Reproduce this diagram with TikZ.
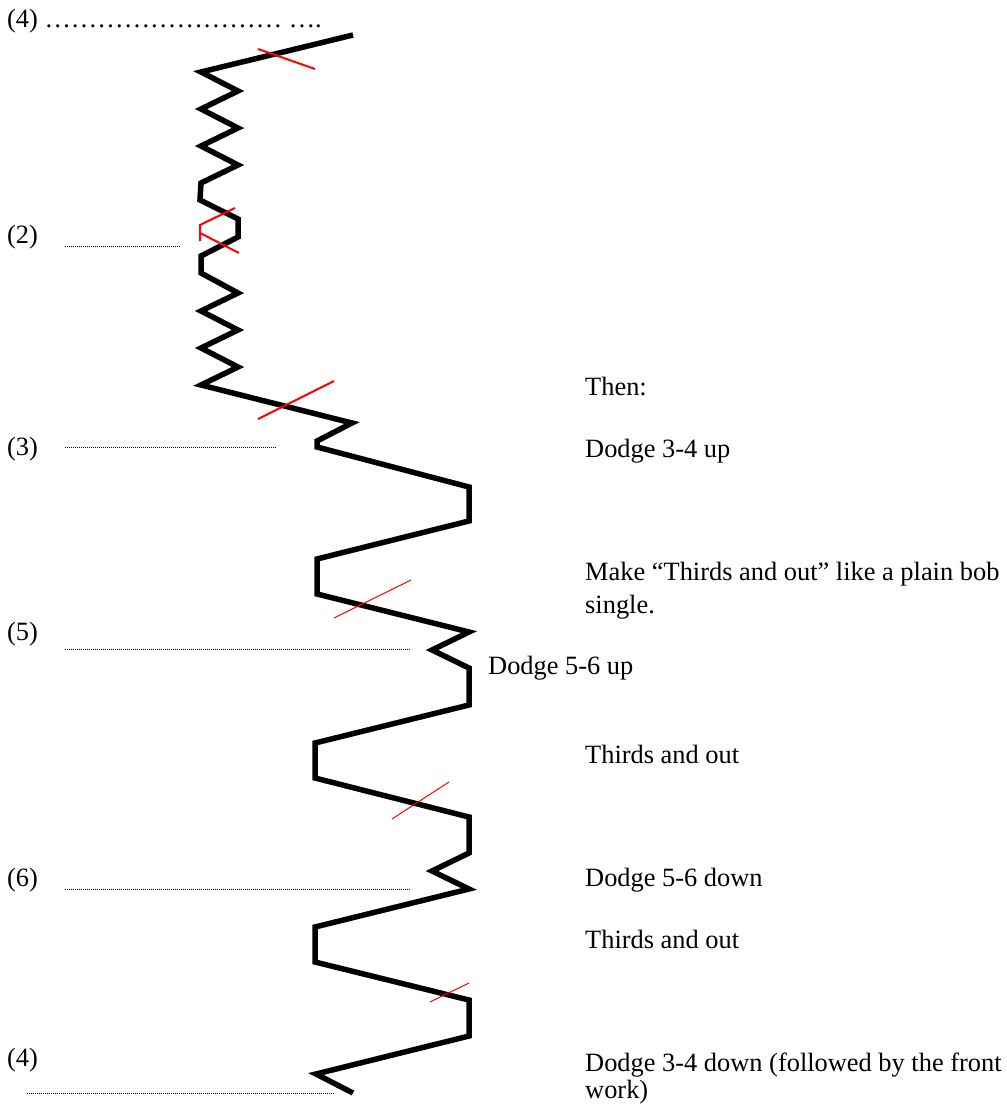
\documentclass[tikz,border=0pt]{standalone}
\usepackage{fontspec}
\setmainfont{Liberation Serif}
\begin{document}
\begin{tikzpicture}[x=1pt,y=-1pt,
  txt/.style={anchor=base west,inner sep=0pt,font=\fontsize{26.4}{33}\selectfont},
  workline/.style={line width=5.5pt,line join=miter,line cap=butt},
  redmark/.style={red,line width=2pt},
  thinred/.style={red,line width=1pt},
  guide/.style={line width=1pt,dash pattern=on 1pt off 1pt}]
\useasboundingbox (0,0) rectangle (1007,1104);
% left labels
\node[txt] (l4a) at (7,27) {(4) ……………………… ….};
\node[txt] (l2) at (7,243) {(2)};
\node[txt] (l3) at (7,455) {(3)};
\node[txt] (l5) at (7,640) {(5)};
\node[txt] (l6) at (7,886) {(6)};
\node[txt] (l4b) at (7,1066) {(4)};
% guide lines
\coordinate (g2a) at (65,246); \coordinate (g2b) at (180,246);
\coordinate (g3a) at (65,447); \coordinate (g3b) at (277,447);
\coordinate (g5a) at (65,649); \coordinate (g5b) at (411,649);
\coordinate (g6a) at (65,889); \coordinate (g6b) at (411,889);
\coordinate (g4a) at (27,1093); \coordinate (g4b) at (334,1093);
\draw[guide] (g2a) -- (g2b);
\draw[guide] (g3a) -- (g3b);
\draw[guide] (g5a) -- (g5b);
\draw[guide] (g6a) -- (g6b);
\draw[guide] (g4a) -- (g4b);
% right text
\node[txt] (t1) at (585,395) {Then:};
\node[txt] (t2) at (585,457) {Dodge 3-4 up};
\node[txt] (t3) at (585,580) {Make “Thirds and out” like a plain bob};
\node[txt] (t3b) at (585,613) {single.};
\node[txt] (t4) at (488,674) {Dodge 5-6 up};
\node[txt] (t5) at (585,763) {Thirds and out};
\node[txt] (t6) at (585,886) {Dodge 5-6 down};
\node[txt] (t7) at (585,948) {Thirds and out};
\node[txt] (t8) at (585,1071) {Dodge 3-4 down (followed by the front};
\node[txt] (t8b) at (585,1098) {work)};
% the work line
\draw[workline] (353,35) -- (201,72) -- (238,91) -- (201,109) -- (238,128) -- (201,146)
  -- (238,165) -- (201,183) -- (200,200) -- (238,219) -- (238,237) -- (201,256)
  -- (201,273) -- (238,293) -- (201,311) -- (238,330) -- (201,348) -- (238,367)
  -- (201,385) -- (352,423) -- (317,441) -- (317,447) -- (469,487) -- (469,521)
  -- (317,559) -- (317,594) -- (469,632) -- (432,650) -- (469,668) -- (469,705)
  -- (315,743) -- (315,778) -- (469,817) -- (469,853) -- (432,871) -- (469,889)
  -- (315,927) -- (315,962) -- (469,1000) -- (469,1036) -- (316,1074) -- (353,1093);
% red marks
\draw[redmark] (258,49) -- (315,69);
\draw[redmark] (235,208) -- (200,225) -- (200,241);
\draw[redmark] (200,233) -- (239,253);
\draw[redmark] (258,419) -- (334,381);
\draw[thinred] (334,618) -- (411,580);
\draw[thinred] (392,819) -- (449,782);
\draw[thinred] (430,1002) -- (469,983);
\end{tikzpicture}
\end{document}
